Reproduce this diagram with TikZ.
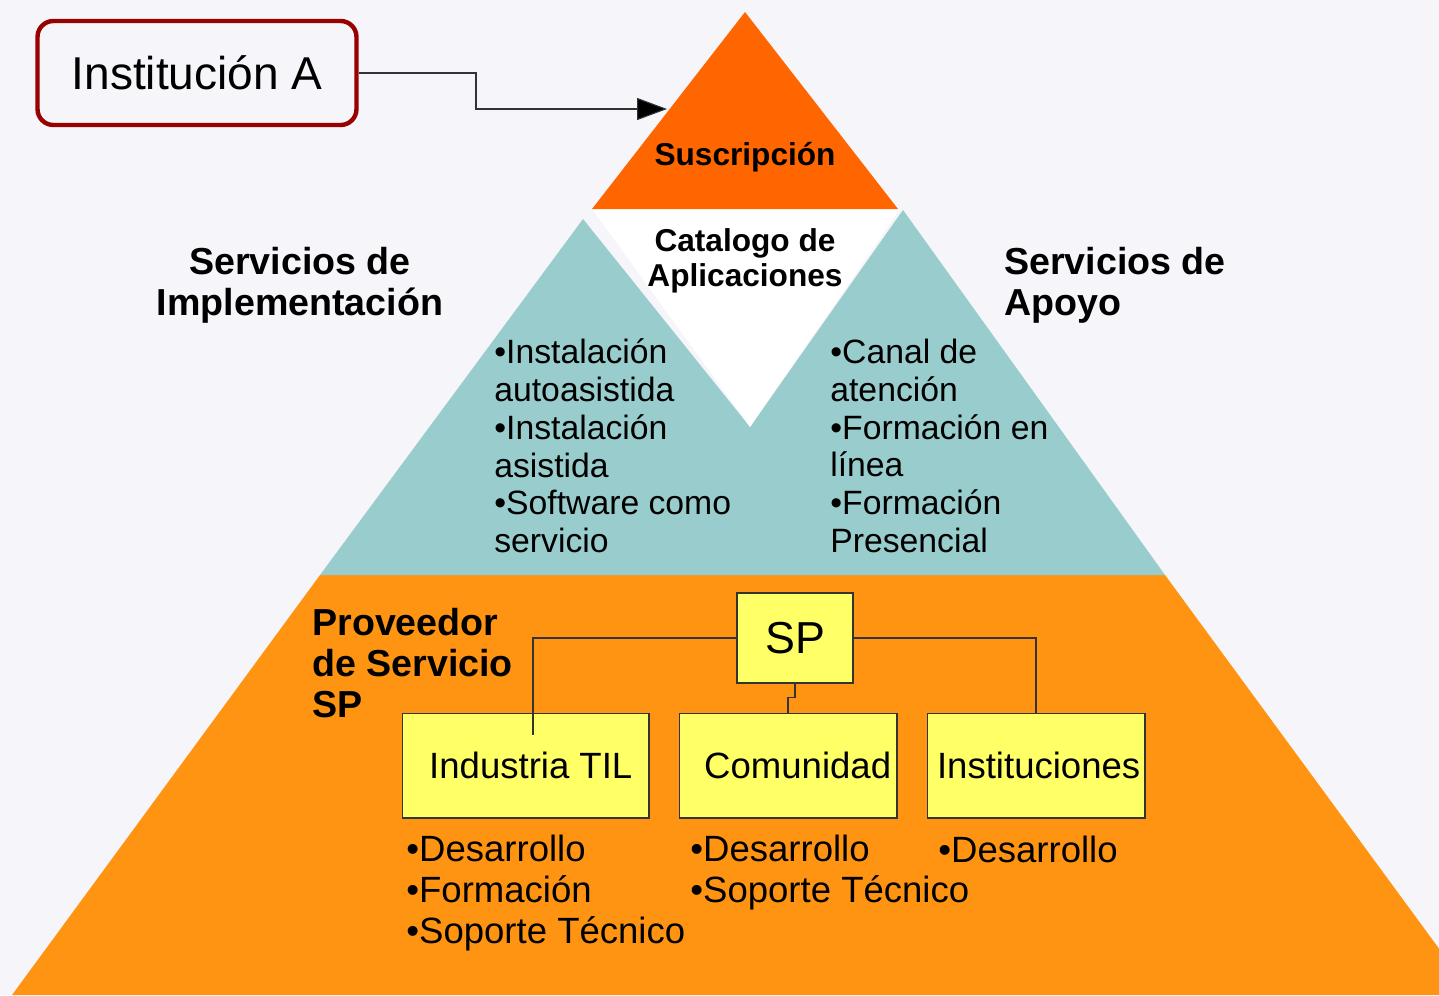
\documentclass[tikz,border=0pt]{standalone}
\usepackage{fontspec}
\setmainfont{Liberation Sans}
\usetikzlibrary{positioning, arrows.meta, calc}

\definecolor{bgcol}{HTML}{F5F5FA}
\definecolor{topcol}{HTML}{FF6600}
\definecolor{tealcol}{HTML}{99CCCC}
\definecolor{basecol}{HTML}{FF9412}
\definecolor{boxcol}{HTML}{FFFF66}
\definecolor{redcol}{HTML}{990000}

\begin{document}
\begin{tikzpicture}[
    x=0.02cm, y=-0.02cm,
    inst/.style={rectangle, draw=redcol, line width=2.5pt, rounded corners=9pt, fill=bgcol,
        minimum width=6.38cm, minimum height=2.08cm, font=\fontsize{26.2}{30}\selectfont},
    ybox/.style={rectangle, draw=black!80, line width=0.6pt, fill=boxcol, inner xsep=0pt,
        minimum height=2.1cm, font=\fontsize{20.8}{24}\selectfont},
    head/.style={inner sep=0pt, font=\bfseries\fontsize{21.4}{23.2}\selectfont},
    small head/.style={inner sep=0pt, font=\bfseries\fontsize{18}{19.8}\selectfont},
    items/.style={inner sep=0pt, align=left, anchor=west, font=\fontsize{19.2}{21.5}\selectfont},
    base items/.style={inner sep=0pt, align=left, anchor=west, font=\fontsize{20.8}{23.2}\selectfont},
    link/.style={draw=black!80, line width=0.6pt}
]

% Background
\useasboundingbox (0,0) rectangle (1439,995);
\fill[bgcol] (0,0) rectangle (1439,995);

% === Pyramid ===
\begin{scope}
    \clip (0,0) rectangle (1439,995);
    % Base layer
    \fill[basecol] (320,575) -- (1165,575) -- (1473,995) -- (12,995) -- cycle;
    % Middle layer
    \fill[tealcol] (320,575) -- (583,219) -- (750,427) -- (903,210) -- (1165,575) -- cycle;
    % Catalogue gap
    \fill[white] (592,209) -- (900,209) -- (750,427) -- cycle;
    % Top
    \fill[topcol] (745,12) -- (898,209) -- (592,209) -- cycle;
\end{scope}

% Top texts
\node[small head] (suscr) at (745,157) {Suscripción};
\node[small head, align=center] (catalogo) at (745,261) {Catalogo de\\Aplicaciones};

% Services
\node[head, align=center] (servimpl) at (300,285) {Servicios de\\Implementación};
\node[head, align=left, anchor=west] (servapoyo) at (1004,285) {Servicios de\\Apoyo};

\node[items] (listimpl) at (494,446) {•Instalación\\autoasistida\\•Instalación\\asistida\\•Software como\\servicio};
\node[items] (listapoyo) at (830,446) {•Canal de\\atención\\•Formación en\\línea\\•Formación\\Presencial};

% === Institution ===
\node[inst] (instA) at (197,73) {Institución A};
\coordinate (tip) at (667,109);
\draw[link, -{Triangle[length=17pt, width=12.5pt, fill=black]}] (instA.east) -- (476,73) |- (tip);

% === Service provider ===
\node[head, align=left, anchor=west] (prov) at (312,663) {Proveedor\\de Servicio\\SP};

\node[ybox, minimum width=2.32cm, minimum height=1.8cm, font=\fontsize{25.5}{28}\selectfont] (sp) at (795,638) {SP};
\node[ybox, minimum width=4.94cm] (ind) at (525.5,765.5) {\hspace{6pt}Industria TIL};
\node[ybox, minimum width=4.36cm] (com) at (788,765.5) {\hspace{11pt}Comunidad};
\node[ybox, minimum width=4.36cm] (instit) at (1036,765.5) {\hspace{3pt}Instituciones};

\coordinate (indtip) at (533,735);
\draw[link] (sp.west) -| (indtip);
\draw[link] (sp.east) -| (instit.north);
\draw[link] (sp.south) -- ++(0,14) -| (com.north);

\node[base items] (listind) at (406,893) {•Desarrollo\\•Formación\\•Soporte Técnico};
\node[base items] (listcom) at (690,872.5) {•Desarrollo\\•Soporte Técnico};
\node[base items] (listinst) at (938,849) {•Desarrollo};

\end{tikzpicture}
\end{document}
